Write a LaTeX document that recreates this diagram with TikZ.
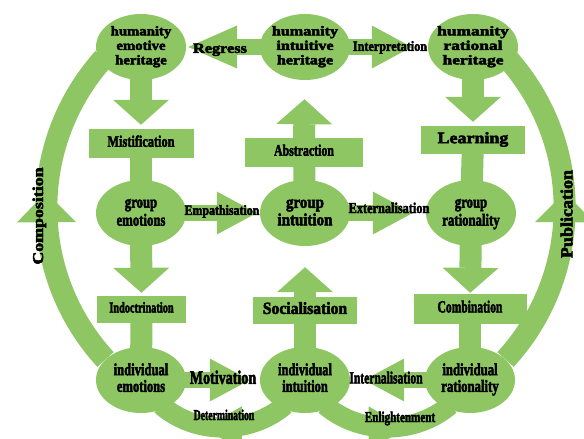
\documentclass[tikz,border=0pt]{standalone}
\usepackage{fontspec}
\usepackage{graphicx}
\usetikzlibrary{shapes.geometric,arrows.meta,decorations.markings}
\newfontfamily\lf{Liberation Serif}[BoldFeatures={FakeBold=3}]
\definecolor{gr}{HTML}{8DC663}
\pgfdeclarelayer{background}
\pgfsetlayers{background,main}
\newcommand\tl[4]{\scalebox{#2}[1]{\fontsize{#1pt}{#3pt}\selectfont\begin{tabular}{@{}c@{}}#4\end{tabular}}}
\tikzset{
 ell/.style={ellipse, fill=gr, minimum width=90pt, minimum height=66pt, inner sep=0pt},
 box/.style={rectangle, fill=gr, inner sep=0pt},
 lab/.style={inner sep=0pt, font=\lf\bfseries, text=black},
 vconn/.style={draw=gr, line width=22pt, shorten <=-4pt},
 hconn/.style={draw=gr, line width=16pt, shorten <=-4pt},
 band/.style={draw=gr, line width=22pt},
 vtip/.style={-{Triangle[width=56pt,length=25pt,line width=0pt]}},
 htip/.style={-{Triangle[width=43pt,length=40pt,line width=0pt]}},
 uphead/.style={postaction={decorate}, decoration={markings, mark=at position 0.5 with {\fill[gr] (17pt,0pt) -- (-13pt,29.5pt) -- (-13pt,-29.5pt) -- cycle;}}},
 lowhead/.style={postaction={decorate}, decoration={markings, mark=at position 0.5 with {\fill[gr] (19pt,0pt) -- (-19pt,22pt) -- (-19pt,-22pt) -- cycle;}}},
}
\begin{document}
\begin{tikzpicture}[x=1pt,y=1pt]
\useasboundingbox (0,0) rectangle (584,-439);
% ellipses
\node[ell] (heh) at (141,-47) {};
\node[ell] (hih) at (305,-47) {};
\node[ell] (hrh) at (473,-47) {};
\node[ell] (ge) at (141,-213) {};
\node[ell] (gi) at (305,-213) {};
\node[ell] (gr) at (471,-213) {};
\node[ell] (ie) at (141,-380) {};
\node[ell] (ii) at (305,-380) {};
\node[ell] (ir) at (470,-380) {};
% boxes
\node[box, minimum width=105pt, minimum height=29pt, lab] (mis) at (141,-143.5) {\tl{16}{0.77}{16}{Mistification}};
\node[box, minimum width=89pt, minimum height=27pt, lab] (ind) at (141.5,-309.5) {\tl{15}{0.69}{15}{Indoctrination}};
\node[box, minimum width=118pt, minimum height=29pt, lab] (abs) at (304,-152.5) {\tl{16}{0.74}{16}{Abstraction}};
\node[box, minimum width=104pt, minimum height=27pt, lab] (soc) at (305,-310.5) {\tl{17}{0.92}{17}{Socialisation}};
\node[box, minimum width=104pt, minimum height=28pt, lab] (lea) at (473,-140) {\tl{16}{1.12}{16}{Learning}};
\node[box, minimum width=113pt, minimum height=30pt, lab] (com) at (470,-309) {\tl{17}{0.68}{17}{Combination}};
% ellipse texts
\node[lab] (heh-t) at (heh) {\tl{13.4}{1.1}{14.5}{humanity\\emotive\\heritage}};
\node[lab] (hih-t) at (hih) {\tl{13.4}{1.2}{14.5}{humanity\\intuitive\\heritage}};
\node[lab] (hrh-t) at (hrh) {\tl{13.4}{1.3}{14.5}{humanity\\rational\\heritage}};
\node[lab] (ge-t) at (ge) {\tl{17}{0.75}{18}{group\\emotions}};
\node[lab] (gi-t) at (gi) {\tl{17}{0.88}{17.5}{group\\intuition}};
\node[lab] (gr-t) at (gr) {\tl{17}{0.75}{18}{group\\rationality}};
\node[lab] (ie-t) at (ie) {\tl{17}{0.74}{16}{individual\\emotions}};
\node[lab] (ii-t) at (ii) {\tl{17}{0.73}{16}{individual\\intuition}};
\node[lab] (ir-t) at (ir) {\tl{17}{0.75}{16}{individual\\rationality}};
% connector labels
\node[lab] (l-reg) at (220,-50) {\tl{14}{1.16}{14}{Regress}};
\node[lab] (l-int) at (390,-48) {\tl{14}{0.87}{14}{Interpretation}};
\node[lab] (l-emp) at (222,-212) {\tl{14}{0.85}{14}{Empathisation}};
\node[lab] (l-ext) at (389,-210) {\tl{15}{0.82}{15}{Externalisation}};
\node[lab] (l-mot) at (223,-380) {\tl{19}{0.74}{19}{Motivation}};
\node[lab] (l-inl) at (386,-380) {\tl{17}{0.68}{17}{Internalisation}};
\node[lab] (l-det) at (224,-417) {\tl{15}{0.65}{15}{Determination}};
\node[lab] (l-enl) at (400,-419) {\tl{15}{0.74}{15}{Enlightenment}};
\node[lab, rotate=90] (l-com) at (40,-216) {\tl{15}{1.19}{15}{Composition}};
\node[lab, rotate=90] (l-pub) at (569,-214) {\tl{17}{1.06}{17}{Publication}};
% connectors
\begin{pgfonlayer}{background}
\draw[vconn,vtip,shorten >=4pt] (heh) -- (mis);
\draw[vconn,shorten >=-4pt] (mis) -- (ge);
\draw[vconn,vtip,shorten >=3pt] (ge) -- (ind);
\draw[vconn,shorten >=-4pt] (ind) -- (ie);
\draw[vconn,vtip,shorten >=19pt] (abs) -- (hih);
\draw[vconn,shorten >=-4pt] (gi) -- (abs);
\draw[vconn,vtip,shorten >=21pt] (soc) -- (gi);
\draw[vconn,shorten >=-4pt] (ii) -- (soc);
\draw[vconn,vtip,shorten >=4pt] (hrh) -- (lea);
\draw[vconn,shorten >=-4pt] (lea) -- (gr);
\draw[vconn,vtip,shorten >=1pt] (gr) -- (com);
\draw[vconn,shorten >=-4pt] (com) -- (ir);
\draw[hconn,-{Triangle[width=43pt,length=49pt,line width=0pt]},shorten >=2pt] (hih) -- (heh);
\draw[hconn,htip,shorten >=16pt] (hih) -- (hrh);
\draw[hconn,htip,shorten >=3pt] (ge) -- (gi);
\draw[hconn,htip,shorten >=13pt] (gi) -- (gr);
\draw[hconn,htip,shorten >=10pt] (ie) -- (ii);
\draw[hconn,htip,shorten >=14pt] (ir) -- (ii);
\draw[band,uphead] (ie.150) arc[start angle=222.6, end angle=138.1, radius=224pt];
\draw[band,uphead] (ir.30) arc[start angle=-42.6, end angle=41.9, radius=224pt];
\draw[band,line width=20pt,lowhead,shorten <=-5pt,shorten >=-5pt] (ii.230) .. controls (250,-435) and (195,-435) .. (ie.-50);
\draw[band,line width=20pt,lowhead,shorten <=-5pt,shorten >=-5pt] (ii.-50) .. controls (360,-435) and (415,-435) .. (ir.230);
\end{pgfonlayer}
\end{tikzpicture}
\end{document}
